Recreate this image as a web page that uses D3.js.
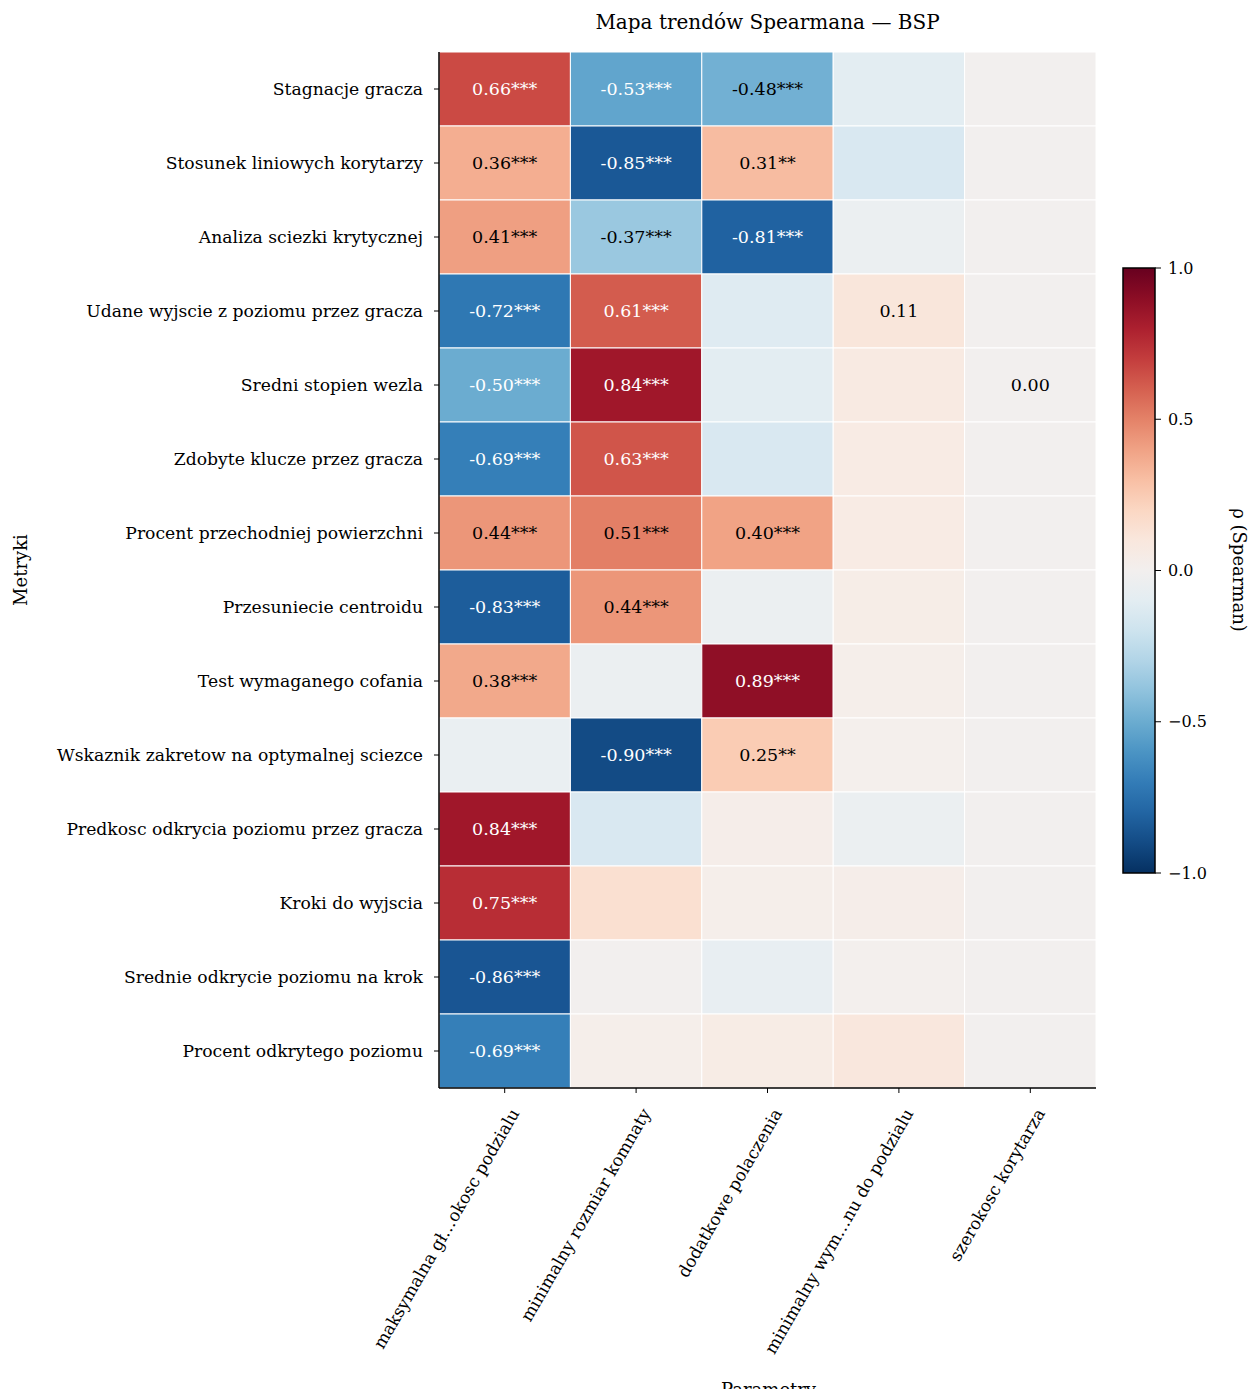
<!DOCTYPE html>
<html><head><meta charset="utf-8">
<script src="https://cdn.jsdelivr.net/npm/d3@7"></script>
<style>body{margin:0;background:#fff}text{font-family:"DejaVu Serif",serif}</style>
</head><body><svg id="c" width="1253" height="1389"></svg>
<script>
const rowsLabels=["Stagnacje gracza","Stosunek liniowych korytarzy","Analiza sciezki krytycznej","Udane wyjscie z poziomu przez gracza","Sredni stopien wezla","Zdobyte klucze przez gracza","Procent przechodniej powierzchni","Przesuniecie centroidu","Test wymaganego cofania","Wskaznik zakretow na optymalnej sciezce","Predkosc odkrycia poziomu przez gracza","Kroki do wyjscia","Srednie odkrycie poziomu na krok","Procent odkrytego poziomu"];
const colLabels=["maksymalna gł…okosc podzialu","minimalny rozmiar komnaty","dodatkowe polaczenia","minimalny wym…nu do podzialu","szerokosc korytarza"];
const values=[
[0.66,-0.53,-0.48,-0.10,0],
[0.36,-0.85,0.31,-0.15,0],
[0.41,-0.37,-0.81,-0.05,0],
[-0.72,0.61,-0.12,0.11,0],
[-0.50,0.84,-0.10,0.08,0.00],
[-0.69,0.63,-0.15,0.07,0],
[0.44,0.51,0.40,0.07,0],
[-0.83,0.44,-0.05,0.05,0],
[0.38,-0.05,0.89,0.03,0],
[-0.06,-0.90,0.25,0.02,0],
[0.84,-0.15,0.04,-0.05,0],
[0.75,0.15,0.03,0.04,0],
[-0.86,0.0,-0.07,0.01,0],
[-0.69,0.03,0.06,0.10,0]];
const labels=[
["0.66***","-0.53***","-0.48***","",""],
["0.36***","-0.85***","0.31**","",""],
["0.41***","-0.37***","-0.81***","",""],
["-0.72***","0.61***","","0.11",""],
["-0.50***","0.84***","","","0.00"],
["-0.69***","0.63***","","",""],
["0.44***","0.51***","0.40***","",""],
["-0.83***","0.44***","","",""],
["0.38***","","0.89***","",""],
["","-0.90***","0.25**","",""],
["0.84***","","","",""],
["0.75***","","","",""],
["-0.86***","","","",""],
["-0.69***","","","",""]];
const cbTicks=[1,0.5,0,-0.5,-1];
const rdbu=["#053061","#2166ac","#4393c3","#92c5de","#d1e5f0","#f7f7f7","#fddbc7","#f4a582","#d6604d","#b2182b","#67001f"];

const svg=d3.select("#c");
const L=439,R=1096,T=52,B=1088;
const x=d3.scaleBand().domain(colLabels).range([L,R]);
const y=d3.scaleBand().domain(rowsLabels).range([T,B]);
const interp=d3.interpolateRgbBasis(rdbu);
const color=v=>interp((v+1)/2);
const cells=[];
values.forEach((r,i)=>r.forEach((v,j)=>cells.push({i,j,v,l:labels[i][j]})));
svg.selectAll("rect.c").data(cells).join("rect")
 .attr("x",d=>x(colLabels[d.j])).attr("y",d=>y(rowsLabels[d.i]))
 .attr("width",x.bandwidth()).attr("height",y.bandwidth())
 .attr("fill",d=>color(d.v)).attr("stroke","#fff").attr("stroke-width",1);
svg.selectAll("text.v").data(cells.filter(d=>d.l)).join("text")
 .attr("x",d=>x(colLabels[d.j])+x.bandwidth()/2).attr("y",d=>y(rowsLabels[d.i])+y.bandwidth()/2)
 .attr("text-anchor","middle").attr("dominant-baseline","central").attr("font-size",17.5)
 .attr("fill",d=>(d.v>0.55||d.v<=-0.49)&&d.v!=-0.48?"#fff":"#000").text(d=>d.l);
svg.append("line").attr("x1",L).attr("x2",L).attr("y1",T).attr("y2",B).attr("stroke","#000").attr("stroke-width",1.5);
svg.append("line").attr("x1",L).attr("x2",R).attr("y1",B).attr("y2",B).attr("stroke","#000").attr("stroke-width",1.5);
rowsLabels.forEach(r=>{const yy=y(r)+y.bandwidth()/2;
 svg.append("line").attr("x1",L-5).attr("x2",L).attr("y1",yy).attr("y2",yy).attr("stroke","#000");
 svg.append("text").attr("x",L-16).attr("y",yy).attr("text-anchor","end").attr("dominant-baseline","central").attr("font-size",17.2).text(r);});
colLabels.forEach(c=>{const xx=x(c)+x.bandwidth()/2;
 svg.append("line").attr("x1",xx).attr("x2",xx).attr("y1",B).attr("y2",B+5).attr("stroke","#000");
 svg.append("text").attr("transform",`translate(${xx+10},${B+22}) rotate(-60)`).attr("text-anchor","end").attr("dominant-baseline","central").attr("font-size",17).text(c);});
svg.append("text").attr("x",(L+R)/2).attr("y",29).attr("text-anchor","middle").attr("font-size",20).text("Mapa trendów Spearmana — BSP");
svg.append("text").attr("transform","translate(27,570) rotate(-90)").attr("text-anchor","middle").attr("font-size",18).text("Metryki");
svg.append("text").attr("x",(L+R)/2+1).attr("y",1396).attr("text-anchor","middle").attr("font-size",18).text("Parametry");
const cx=1123,cw=32,cT=268,cB=873;
const cy=d3.scaleLinear().domain([-1,1]).range([cB,cT]);
const g=svg.append("defs").append("linearGradient").attr("id","g").attr("x1",0).attr("x2",0).attr("y1",1).attr("y2",0);
d3.range(0,1.0001,0.05).forEach(t=>g.append("stop").attr("offset",t).attr("stop-color",color(t*2-1)));
svg.append("rect").attr("x",cx).attr("y",cT).attr("width",cw).attr("height",cB-cT).attr("fill","url(#g)").attr("stroke","#000").attr("stroke-width",1.5);
cbTicks.forEach(t=>{const yy=cy(t);
 svg.append("line").attr("x1",cx+cw).attr("x2",cx+cw+6).attr("y1",yy).attr("y2",yy).attr("stroke","#000");
 svg.append("text").attr("x",cx+cw+13).attr("y",yy).attr("dominant-baseline","central").attr("font-size",16).text(d3.format(".1f")(t).replace("-","−"));});
svg.append("text").attr("transform","translate(1233,570) rotate(90)").attr("text-anchor","middle").attr("font-size",18).text("ρ (Spearman)");
</script></body></html>
